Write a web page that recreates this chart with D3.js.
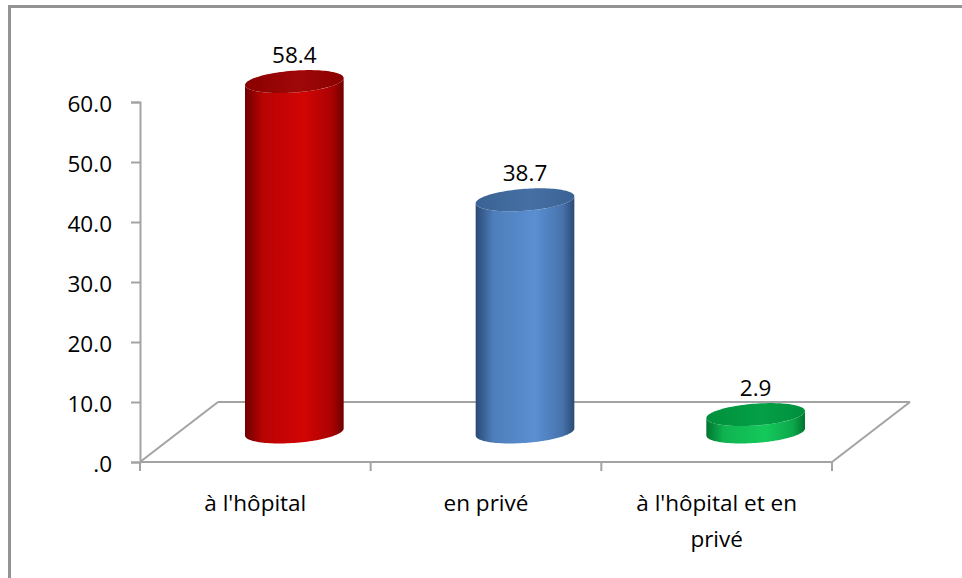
<!DOCTYPE html>
<html>
<head>
<meta charset="utf-8">
<script src="https://cdn.jsdelivr.net/npm/d3@7"></script>
<style>
  html, body { margin: 0; padding: 0; background: #fff; }
  svg { display: block; }
  text { font-family: "Open Sans", "Noto Sans", sans-serif; fill: #000; }
</style>
</head>
<body>
<svg id="chart" width="962" height="578"></svg>
<script>
// Répartition des consultations (%)
const categories = ["à l'hôpital", "en privé", "à l'hôpital et en privé"];
const values = [58.4, 38.7, 2.9];
const yTicks = [0, 10, 20, 30, 40, 50, 60];
const palettes = [
  { edge: "#6e0000", mid: "#d20404", top: "#8a0000", topLight: "#a00808" },
  { edge: "#2b4a74", mid: "#5a8fd2", top: "#3a6294", topLight: "#4670a4" },
  { edge: "#007530", mid: "#14c95c", top: "#008f3c", topLight: "#04a046" }
];

const svg = d3.select("#chart");
const W = 962, H = 578;
const fontSize = 22.5;

// frame
svg.append("rect")
  .attr("x", 9.5).attr("y", 6.5)
  .attr("width", W + 20).attr("height", H + 20)
  .attr("fill", "none").attr("stroke", "#939393").attr("stroke-width", 3);

const plotLeft = 140, plotRight = 832, yBottom = 462, yTop = 102;
const depth = { dx: 78, dy: -60 };   // oblique floor depth
const y = d3.scaleLinear().domain([0, 60]).range([yBottom, yTop]);
const x = d3.scaleBand().domain(categories).range([plotLeft, plotRight]).padding(0);

const gridColor = "#a3a3a3";

// floor outline (back and sides)
const floor = svg.append("g").attr("stroke", gridColor).attr("stroke-width", 2).attr("fill", "none");
floor.append("line")
  .attr("x1", plotLeft + depth.dx).attr("y1", yBottom + depth.dy)
  .attr("x2", plotRight + depth.dx).attr("y2", yBottom + depth.dy);
floor.append("line")
  .attr("x1", plotLeft).attr("y1", yBottom)
  .attr("x2", plotLeft + depth.dx).attr("y2", yBottom + depth.dy);
floor.append("line")
  .attr("x1", plotRight).attr("y1", yBottom)
  .attr("x2", plotRight + depth.dx).attr("y2", yBottom + depth.dy);

// y axis
const yAxis = d3.axisLeft(y)
  .tickValues(yTicks)
  .tickSize(9)
  .tickPadding(19)
  .tickFormat(d => d === 0 ? ".0" : d3.format(".1f")(d));
const gy = svg.append("g").attr("transform", `translate(${plotLeft},0)`).call(yAxis);
gy.select(".domain").attr("stroke", gridColor).attr("stroke-width", 2);
gy.selectAll(".tick line").attr("stroke", gridColor).attr("stroke-width", 2);
gy.selectAll(".tick text")
  .attr("font-size", fontSize)
  .attr("dy", "0.42em")
  .style("font-family", '"Open Sans", sans-serif');

// x axis (front floor edge) with boundary ticks
const gx = svg.append("g");
gx.append("line")
  .attr("x1", plotLeft).attr("y1", yBottom)
  .attr("x2", plotRight).attr("y2", yBottom)
  .attr("stroke", gridColor).attr("stroke-width", 2);
const boundaries = categories.map(c => x(c)).concat([x(categories[categories.length - 1]) + x.bandwidth()]);
gx.selectAll("line.tick").data(boundaries).join("line")
  .attr("class", "tick")
  .attr("x1", d => d).attr("x2", d => d)
  .attr("y1", yBottom).attr("y2", yBottom + 9)
  .attr("stroke", gridColor).attr("stroke-width", 2);

// category labels, wrapped to band width
const maxLabelWidth = 185;
categories.forEach(c => {
  const t = gx.append("text")
    .attr("x", x(c) + x.bandwidth() / 2)
    .attr("y", 511)
    .attr("text-anchor", "middle")
    .attr("font-size", fontSize);
  const words = c.split(" ");
  let line = [];
  let tspan = t.append("tspan").attr("x", x(c) + x.bandwidth() / 2).attr("dy", 0);
  words.forEach(w => {
    line.push(w);
    tspan.text(line.join(" "));
    if (tspan.node().getComputedTextLength() > maxLabelWidth && line.length > 1) {
      line.pop();
      tspan.text(line.join(" "));
      line = [w];
      tspan = t.append("tspan").attr("x", x(c) + x.bandwidth() / 2).attr("dy", 36).text(w);
    }
  });
});

// cylinders
const defs = svg.append("defs");
const a = 47, s = 15, b = 11.5;   // ellipse: cos axis, shear, vertical half-extent
const tSil = Math.atan2(s, a);    // parameter of right silhouette point
function ePt(cx, cy, t) {
  return [cx + a * Math.cos(t) + s * Math.sin(t), cy - b * Math.sin(t)];
}
function arc(cx, cy, t0, t1, n) {
  const pts = [];
  for (let i = 0; i <= n; i++) pts.push(ePt(cx, cy, t0 + (t1 - t0) * i / n));
  return pts;
}

palettes.forEach((p, i) => {
  const g = defs.append("linearGradient").attr("id", "body" + i)
    .attr("x1", 0).attr("x2", 1).attr("y1", 0).attr("y2", 0);
  g.append("stop").attr("offset", "0%").attr("stop-color", p.edge);
  g.append("stop").attr("offset", "18%").attr("stop-color", d3.interpolateRgb(p.edge, p.mid)(0.75));
  g.append("stop").attr("offset", "60%").attr("stop-color", p.mid);
  g.append("stop").attr("offset", "88%").attr("stop-color", d3.interpolateRgb(p.edge, p.mid)(0.6));
  g.append("stop").attr("offset", "100%").attr("stop-color", p.edge);
  const gt = defs.append("linearGradient").attr("id", "top" + i)
    .attr("x1", 0).attr("x2", 1).attr("y1", 0).attr("y2", 0);
  gt.append("stop").attr("offset", "0%").attr("stop-color", p.top);
  gt.append("stop").attr("offset", "55%").attr("stop-color", p.topLight);
  gt.append("stop").attr("offset", "100%").attr("stop-color", p.top);
});

const bars = svg.append("g");
categories.forEach((c, i) => {
  const cx = x(c) + x.bandwidth() / 2 + depth.dx / 2;
  const baseY = y(0) + depth.dy / 2;
  const topY = y(values[i]) + depth.dy / 2;
  // front (lower) halves of bottom and top ellipses, between silhouettes
  const bottomFront = arc(cx, baseY, Math.PI + tSil, 2 * Math.PI + tSil, 60);
  const topFront = arc(cx, topY, 2 * Math.PI + tSil, Math.PI + tSil, 60);
  const body = bottomFront.concat(topFront);
  bars.append("path")
    .attr("d", d3.line()(body) + "Z")
    .attr("fill", `url(#body${i})`);
  const topEll = arc(cx, topY, 0, 2 * Math.PI, 120);
  bars.append("path")
    .attr("d", d3.line()(topEll) + "Z")
    .attr("fill", `url(#top${i})`);
  // value label
  bars.append("text")
    .attr("x", cx)
    .attr("y", topY - 19)
    .attr("text-anchor", "middle")
    .attr("font-size", fontSize)
    .text(d3.format(".1f")(values[i]));
});
</script>
</body>
</html>
